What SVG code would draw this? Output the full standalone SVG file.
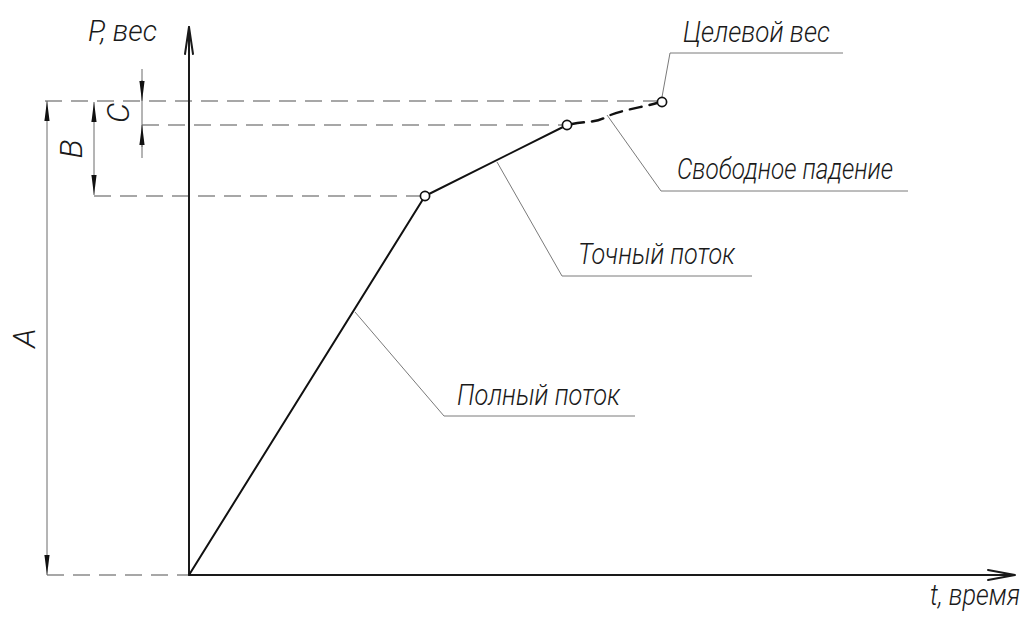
<svg xmlns="http://www.w3.org/2000/svg" width="1033" height="617" viewBox="0 0 1033 617">
  <defs>
    <!-- narrow filled dimension arrowhead, tip at the path end -->
    <marker id="dimArrow" viewBox="0 -3 20 6" refX="20" refY="0" markerWidth="20" markerHeight="6" markerUnits="userSpaceOnUse" orient="auto-start-reverse">
      <path d="M0,-2.6 L20,0 L0,2.6 Z" fill="#111"/>
    </marker>
  </defs>
  <style>
    .axis { stroke: #1a1a1a; stroke-width: 2; fill: none; stroke-linecap: round; stroke-linejoin: round; }
    .guide { stroke: #8a8a8a; stroke-width: 1.3; fill: none; stroke-dasharray: 17 9; }
    .dim { stroke: #6a6a6a; stroke-width: 1; fill: none; }
    .leader { stroke: #7a7a7a; stroke-width: 1; fill: none; }
    .curve { stroke: #111; stroke-width: 2; fill: none; stroke-linejoin: round; }
    .drop { stroke: #111; stroke-width: 2.4; fill: none; stroke-dasharray: 12 8; stroke-linecap: round; }
    .pt { stroke: #111; stroke-width: 1.7; fill: #fff; }
    .lbl { font-family: Roboto, "DejaVu Sans Condensed", "Liberation Sans", sans-serif; font-weight: 300; font-style: italic; font-size: 29px; fill: #1a1a1a; }
    .letter { font-family: Roboto, "DejaVu Sans Condensed", "Liberation Sans", sans-serif; font-weight: 300; font-style: italic; font-size: 32px; fill: #1a1a1a; }
  </style>

  <rect width="1033" height="617" fill="#fff"/>

  <!-- horizontal reference (dashed) lines -->
  <g id="guides">
    <line class="guide" x1="45" y1="101" x2="657" y2="101"/>
    <line class="guide" x1="142" y1="125" x2="562" y2="125"/>
    <line class="guide" x1="94" y1="196" x2="420" y2="196"/>
    <line class="guide" x1="47" y1="575" x2="189" y2="575"/>
  </g>

  <!-- coordinate axes -->
  <g id="axes">
    <line class="axis" x1="189" y1="575" x2="189" y2="27"/>
    <polyline class="axis" points="185,54 189,27 193,54"/>
    <line class="axis" x1="189" y1="575" x2="1014" y2="575"/>
    <polyline class="axis" points="988,570 1015,575 988,580"/>
  </g>

  <!-- dimension A -->
  <g id="dim-A">
    <line class="dim" x1="47" y1="101" x2="47" y2="575" marker-start="url(#dimArrow)" marker-end="url(#dimArrow)"/>
    <text class="letter" transform="translate(35,338) rotate(-90)" text-anchor="middle">A</text>
  </g>

  <!-- dimension B -->
  <g id="dim-B">
    <line class="dim" x1="94" y1="102" x2="94" y2="195" marker-start="url(#dimArrow)" marker-end="url(#dimArrow)"/>
    <text class="letter" transform="translate(82,149) rotate(-90)" text-anchor="middle">B</text>
  </g>

  <!-- dimension C (arrows from outside) -->
  <g id="dim-C">
    <line class="dim" x1="142" y1="69" x2="142" y2="158"/>
    <line class="dim" x1="142" y1="80" x2="142" y2="101" marker-end="url(#dimArrow)"/>
    <line class="dim" x1="142" y1="147" x2="142" y2="125" marker-end="url(#dimArrow)"/>
    <text class="letter" transform="translate(129,113) rotate(-90)" text-anchor="middle">C</text>
  </g>

  <!-- weight curve: full flow, fine flow, free fall -->
  <g id="curve">
    <polyline class="curve" points="189,575 425,196 567,125"/>
    <path class="drop" d="M572,124 C586,121 596,123 606,117 C620,110 640,108 657,103"/>
  </g>

  <!-- leader lines to the labels -->
  <g id="connectors">
    <polyline class="leader" points="662,97 670,53 843,53"/>
    <polyline class="leader" points="607,115 661,191 908,191"/>
    <polyline class="leader" points="497,162 562,276 752,276"/>
    <polyline class="leader" points="355,312 444,416 635,416"/>
  </g>

  <!-- switching points -->
  <g id="point-coarse"><circle class="pt" cx="425" cy="196" r="4.6"/></g>
  <g id="point-fine"><circle class="pt" cx="567" cy="125" r="4.6"/></g>
  <g id="point-target"><circle class="pt" cx="662" cy="102" r="4.6"/></g>

  <!-- labels -->
  <g id="label-p"><text class="lbl" x="88" y="41" textLength="69" lengthAdjust="spacingAndGlyphs">P, вес</text></g>
  <g id="label-t"><text class="lbl" x="930" y="605" font-size="26" textLength="90" lengthAdjust="spacingAndGlyphs">t, время</text></g>
  <g id="label-target"><text class="lbl" x="683" y="42" textLength="147" lengthAdjust="spacingAndGlyphs">Целевой вес</text></g>
  <g id="label-freefall"><text class="lbl" x="677" y="179" textLength="216" lengthAdjust="spacingAndGlyphs">Свободное падение</text></g>
  <g id="label-fine"><text class="lbl" x="578" y="264" textLength="157" lengthAdjust="spacingAndGlyphs">Точный поток</text></g>
  <g id="label-full"><text class="lbl" x="457" y="405" textLength="163" lengthAdjust="spacingAndGlyphs">Полный поток</text></g>
</svg>
